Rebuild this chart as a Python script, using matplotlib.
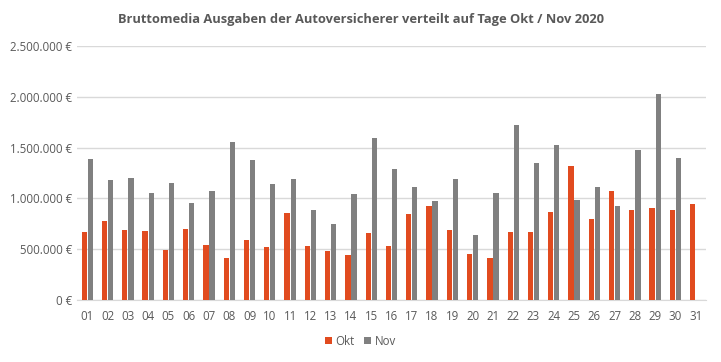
import matplotlib.pyplot as plt
from matplotlib.ticker import FuncFormatter
import numpy as np

plt.rcParams['font.family'] = ['Open Sans', 'DejaVu Sans']

days = ["%02d" % d for d in range(1, 32)]
okt = [671000, 780000, 691000, 681000, 493000, 701000, 543000, 414000, 592000, 523000,
       859000, 533000, 484000, 444000, 661000, 533000, 849000, 928000, 691000, 454000,
       414000, 671000, 671000, 868000, 1322000, 799000, 1076000, 888000, 908000, 888000,
       947000]
nov = [1391000, 1184000, 1204000, 1056000, 1155000, 957000, 1076000, 1559000, 1382000, 1145000,
       1194000, 888000, 750000, 1046000, 1599000, 1293000, 1115000, 977000, 1194000, 641000,
       1056000, 1727000, 1352000, 1530000, 987000, 1115000, 928000, 1480000, 2023000, 1401000]

fig = plt.figure(figsize=(7.21, 3.62), dpi=100)
ax = fig.add_axes([0.107, 0.171, 0.872, 0.702])

x = np.arange(len(days))
w = 0.26
ax.bar(x[:len(okt)] - 0.15, okt, width=w, color='#E14B1F', label='Okt', zorder=3)
ax.bar(x[:len(nov)] + 0.15, nov, width=w, color='#808080', label='Nov', zorder=3)

ax.set_xlim(-0.5, len(days) - 0.5)
ax.set_ylim(0, 2500000)
ax.set_yticks(np.arange(0, 2500001, 500000))
ax.yaxis.set_major_formatter(FuncFormatter(lambda v, p: '{:,.0f} €'.format(v).replace(',', '.')))
ax.set_xticks(x)
ax.set_xticklabels(days)
ax.tick_params(axis='both', length=0, labelsize=8.3, colors='#595959')
ax.tick_params(axis='x', pad=7)
ax.grid(axis='y', color='#D9D9D9', linewidth=1, zorder=0)
for s in ['top', 'right', 'left']:
    ax.spines[s].set_visible(False)
ax.spines['bottom'].set_color('#D9D9D9')

fig.suptitle('Bruttomedia Ausgaben der Autoversicherer verteilt auf Tage Okt / Nov 2020',
             x=0.5, y=0.963, fontsize=9.3, fontweight='bold', color='#595959')
fig.legend(loc='center', bbox_to_anchor=(0.5, 0.058), ncol=2, frameon=False, fontsize=8.3,
           handlelength=0.6, handleheight=0.6, handletextpad=0.3, columnspacing=0.8,
           labelcolor='#595959')

fig.savefig('out.png', dpi=100)
